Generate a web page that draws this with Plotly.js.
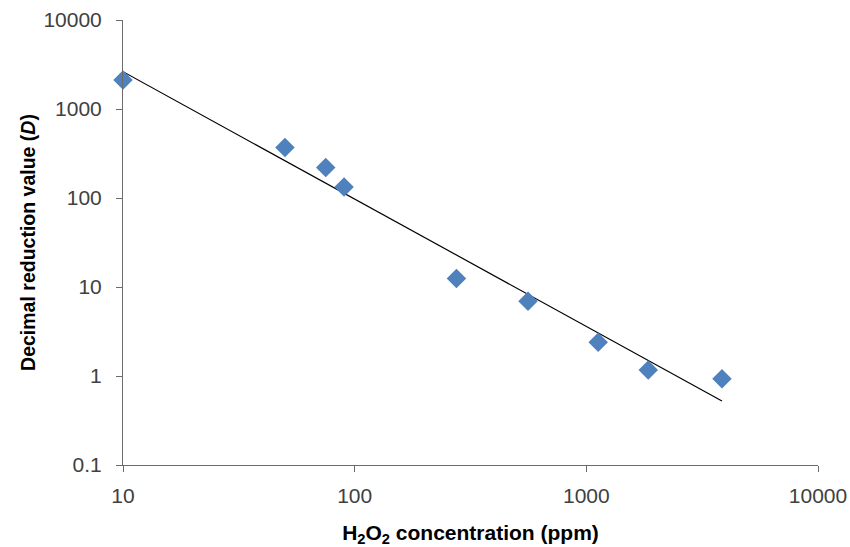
<!DOCTYPE html>
<html>
<head>
<meta charset="utf-8">
<script src="https://cdn.plot.ly/plotly-3.0.1.min.js"></script>
<style>html,body{margin:0;padding:0;background:#fff;}#chart{width:850px;height:547px;}</style>
</head>
<body>
<div id="chart"></div>
<script>
// H2O2 concentration (ppm)
const concentration = [10, 50, 75, 90, 275, 560, 1125, 1850, 3850];
// Decimal reduction value D
const dValue = [2120, 370, 220, 133, 12.5, 6.9, 2.4, 1.17, 0.93];
const xTickVals = [10, 100, 1000, 10000];
const yTickVals = [0.1, 1, 10, 100, 1000, 10000];

// Power trendline (least squares on log10 values), like a spreadsheet power fit
const lx = concentration.map(v => Math.log10(v));
const ly = dValue.map(v => Math.log10(v));
const n = lx.length;
const mx = lx.reduce((a, b) => a + b, 0) / n;
const my = ly.reduce((a, b) => a + b, 0) / n;
let sxy = 0, sxx = 0;
for (let i = 0; i < n; i++) { sxy += (lx[i] - mx) * (ly[i] - my); sxx += (lx[i] - mx) ** 2; }
const slope = sxy / sxx;
const icpt = my - slope * mx;
const trendX = [Math.min(...concentration), Math.max(...concentration)];
const trendY = trendX.map(x => Math.pow(10, icpt + slope * Math.log10(x)));

const font = "'Liberation Sans', Arial, sans-serif";

const data = [
  {
    x: trendX, y: trendY, type: 'scatter', mode: 'lines',
    line: {color: '#000000', width: 1.2}, hoverinfo: 'skip', showlegend: false
  },
  {
    x: concentration, y: dValue, type: 'scatter', mode: 'markers',
    marker: {symbol: 'diamond', size: 15, color: '#4F81BD', line: {width: 0}},
    showlegend: false, cliponaxis: false
  }
];

const layout = {
  width: 850, height: 547,
  margin: {l: 123, r: 32, t: 20, b: 82},
  paper_bgcolor: '#ffffff', plot_bgcolor: '#ffffff',
  font: {family: font, color: '#404040', size: 21},
  xaxis: {
    type: 'log', range: [1, 4],
    tickmode: 'array', tickvals: xTickVals, ticktext: xTickVals.map(String),
    showgrid: false, zeroline: false,
    showline: true, linecolor: '#6b6b6b', linewidth: 1,
    ticks: 'outside', ticklen: 6, tickcolor: '#6b6b6b', tickwidth: 1,
    ticklabelstandoff: 6,
    tickfont: {family: font, size: 21, color: '#404040'},
    title: {text: '<b>H<sub>2</sub>O<sub>2</sub> concentration (ppm)</b>', font: {family: font, size: 21, color: '#000000'}, standoff: 20}
  },
  yaxis: {
    type: 'log', range: [-1, 4], automargin: 'left',
    tickmode: 'array', tickvals: yTickVals, ticktext: yTickVals.map(String),
    showgrid: false, zeroline: false,
    showline: true, linecolor: '#6b6b6b', linewidth: 1,
    ticks: 'outside', ticklen: 6, tickcolor: '#6b6b6b', tickwidth: 1,
    ticklabelstandoff: 10,
    tickfont: {family: font, size: 21, color: '#404040'},
    title: {text: '<b>Decimal reduction value (<i>D</i>)</b>', font: {family: font, size: 19.5, color: '#000000'}, standoff: 2}
  }
};

Plotly.newPlot('chart', data, layout, {displayModeBar: false, staticPlot: true});
</script>
</body>
</html>
